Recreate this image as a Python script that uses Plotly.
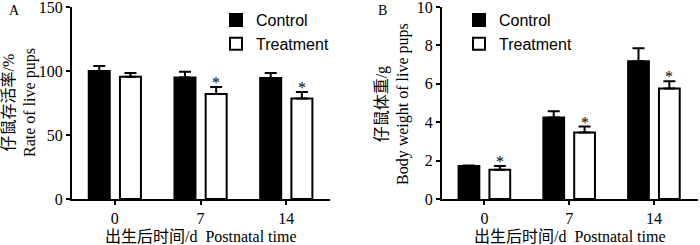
import plotly.graph_objects as go

# ---------------- data ----------------
time_labels = ["0", "7", "14"]
groups = ["Control", "Treatment"]

survival_control = [100, 95, 94.5]
survival_control_err = [4, 4.5, 4]
survival_treat = [95.5, 82, 78.5]
survival_treat_err = [3, 5.5, 5]
survival_sig = [False, True, True]

weight_control = [1.72, 4.25, 7.17]
weight_control_err = [0.02, 0.32, 0.68]
weight_treat = [1.52, 3.47, 5.76]
weight_treat_err = [0.2, 0.3, 0.37]
weight_sig = [True, True, True]

FONT = "Liberation Serif, Times New Roman, Noto Sans CJK SC, serif"
SANS = "Liberation Sans, Arial, sans-serif"
W, H = 700, 245

xs = list(range(len(time_labels)))
BW = 0.245
SEP = 0.182

fig = go.Figure()


def add_panel(ctrl, ctrl_err, trt, trt_err, xa, ya, legend):
    fig.add_trace(go.Bar(
        x=xs, y=ctrl, name=groups[0], xaxis=xa, yaxis=ya, legend=legend,
        width=BW, offset=-SEP - BW / 2,
        marker=dict(color="black", line=dict(color="black", width=2)),
        error_y=dict(type="data", array=ctrl_err, symmetric=False,
                     arrayminus=[0] * len(ctrl), color="black", thickness=2, width=6),
    ))
    fig.add_trace(go.Bar(
        x=xs, y=trt, name=groups[1], xaxis=xa, yaxis=ya, legend=legend,
        width=BW, offset=SEP - BW / 2,
        marker=dict(color="white", line=dict(color="black", width=2)),
        error_y=dict(type="data", array=trt_err, symmetric=False,
                     arrayminus=[0] * len(trt), color="black", thickness=2, width=6),
    ))


add_panel(survival_control, survival_control_err, survival_treat, survival_treat_err, "x", "y", "legend")
add_panel(weight_control, weight_control_err, weight_treat, weight_treat_err, "x2", "y2", "legend2")

# significance stars
for i, s in enumerate(survival_sig):
    if s:
        fig.add_annotation(x=xs[i] + SEP, y=survival_treat[i] + survival_treat_err[i],
                           xref="x", yref="y", text="*", showarrow=False, xanchor="center",
                           yanchor="bottom", yshift=-6, font=dict(size=16, family=FONT, color="black"))
for i, s in enumerate(weight_sig):
    if s:
        fig.add_annotation(x=xs[i] + SEP, y=weight_treat[i] + weight_treat_err[i],
                           xref="x2", yref="y2", text="*", showarrow=False, xanchor="center",
                           yanchor="bottom", yshift=-6, font=dict(size=16, family=FONT, color="black"))

ydom = [1 - 199 / H, 1 - 7 / H]
axis_common = dict(showline=True, linecolor="black", linewidth=2, ticks="outside",
                   ticklen=4, tickwidth=2, tickcolor="black", showgrid=False, zeroline=False,
                   automargin=False, ticklabeloverflow="allow",
                   tickfont=dict(size=16, family=FONT, color="black"))

legend_common = dict(xanchor="left", yanchor="top", bgcolor="rgba(0,0,0,0)",
                     font=dict(size=16, family=SANS, color="black"), tracegroupgap=0)

fig.update_layout(
    width=W, height=H, margin=dict(l=0, r=0, t=0, b=0, autoexpand=False),
    paper_bgcolor="white", plot_bgcolor="white",
    barmode="overlay",
    font=dict(family=FONT, color="black"),
    xaxis=dict(domain=[72 / W, 330 / W], range=[-0.5, 2.51], tickvals=xs, ticktext=time_labels,
               anchor="y", **axis_common),
    yaxis=dict(domain=ydom, range=[0, 150], tickvals=[0, 50, 100, 150], anchor="x", **axis_common),
    xaxis2=dict(domain=[442 / W, 698 / W], range=[-0.5, 2.52], tickvals=xs, ticktext=time_labels,
                anchor="y2", **axis_common),
    yaxis2=dict(domain=ydom, range=[0, 10], tickvals=[0, 2, 4, 6, 8, 10], anchor="x2", **axis_common),
    legend=dict(x=216 / W, y=1 - 3 / H, **legend_common),
    legend2=dict(x=459 / W, y=1 - 3 / H, **legend_common),
)


# axis titles and panel letters
def ann(x, y, text, size=16, angle=0):
    fig.add_annotation(x=x / W, y=1 - y / H, xref="paper", yref="paper", showarrow=False,
                       xanchor="center", yanchor="middle", textangle=angle, text=text,
                       font=dict(size=size, family=FONT, color="black"))


ann(201, 236, "出生后时间/d  Postnatal time")
ann(570, 236, "出生后时间/d  Postnatal time")
ann(20, 103, "仔鼠存活率/%<br>Rate of live pups", angle=-90)
ann(392, 104, "仔鼠体重/g<br>Body weight of live pups", angle=-90)
ann(14, 10, "A", size=14)
ann(382, 10, "B", size=14)

fig.write_html("out.html", config={"displayModeBar": False},
               post_script="document.body.style.margin='0px';")
